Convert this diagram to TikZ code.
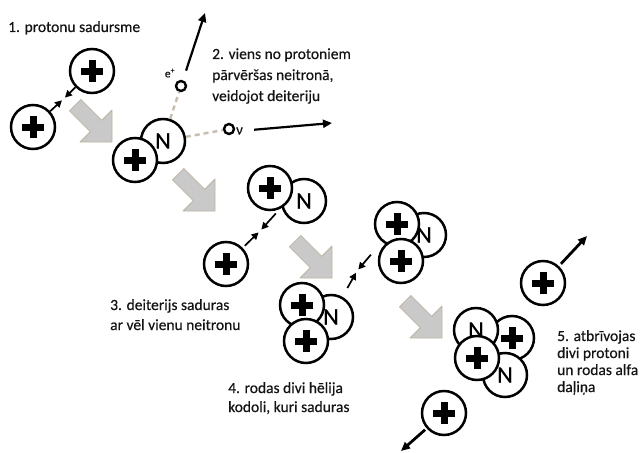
\documentclass[tikz,border=0pt]{standalone}
\usepackage{fontspec}
\setmainfont[FakeBold=0.4]{Carlito}
\usetikzlibrary{arrows.meta}
\definecolor{ink}{HTML}{141414}
\definecolor{flowfill}{HTML}{C9C9C9}
\definecolor{flowedge}{HTML}{BDB3A2}
\definecolor{trail}{HTML}{C6BDAE}

\begin{document}
\begin{tikzpicture}[x=1pt,y=-1pt,
  particle/.style={circle, draw=black, line width=2.5pt, fill=white,
    minimum size=44pt, inner sep=0pt},
  proton/.style={particle, path picture={
    \fill[black] ([shift={(-11pt,-3.5pt)}]path picture bounding box.center)
      rectangle ([shift={(11pt,3.5pt)}]path picture bounding box.center);
    \fill[black] ([shift={(-3.5pt,-11pt)}]path picture bounding box.center)
      rectangle ([shift={(3.5pt,11pt)}]path picture bounding box.center);}},
  neutron/.style={particle, font=\fontsize{24}{24}\selectfont},
  light/.style={circle, draw=black, line width=2.4pt, fill=white,
    minimum size=10pt, inner sep=0pt},
  pull/.style={-{Triangle[length=7pt,width=7pt]}, line width=1.7pt,
    shorten >=2pt},
  emit/.style={-{Triangle[length=9pt,width=8pt]}, line width=2.2pt},
  trailline/.style={draw=trail, line width=2.4pt, dash pattern=on 5pt off 4pt},
  caption/.style={anchor=base west, inner sep=0pt, text=ink,
    font=\fontsize{15.5}{20}\selectfont},
  flow/.pic={\filldraw[fill=flowfill, draw=flowedge, line width=0.8pt,
    line join=round] (-42.5,-31.1) -- (-21.7,-10.3) -- (-32,0) -- (0,0)
    -- (0,-32) -- (-10.3,-21.7) -- (-31.1,-42.5) -- cycle;}
]
\useasboundingbox[fill=white] (0,0) rectangle (644,452);

% reaction flow
\pic at (112,142) {flow};
\pic at (215,211) {flow};
\pic at (332,278) {flow};
\pic at (442,338) {flow};

% 1. two protons approach
\node[proton] (p1a) at (92,71) {};
\node[proton] (p1b) at (33,127) {};
\coordinate (m1) at (63.5,99);
\draw[pull] (p1a) -- (m1);
\draw[pull] (p1b) -- (m1);

% 2. deuteron, positron and neutrino
\node[light] (ep) at (181,86) {};
\node[light] (nu) at (229,129) {};
\node[neutron] (d1n) at (163,141) {N};
\node[proton] (d1p) at (135,160) {};
\draw[trailline] (d1n) -- (ep);
\draw[trailline] (d1n) -- (nu);
\node[inner sep=0pt, text=ink, font=\fontsize{11.5}{11.5}\selectfont] (eplab) at (170,73) {e\textsuperscript{+}};
\node[inner sep=0pt, text=ink, anchor=west, font=\fontsize{15}{15}\selectfont] (nulab) at (236,131) {ν};
\coordinate (eptip) at (205,13);
\coordinate (nutip) at (332,123);
\draw[emit, shorten <=10pt] (ep) -- (eptip);
\draw[emit, shorten <=11pt] (nulab) -- (nutip);

% 3. deuteron meets a proton
\node[neutron] (d2n) at (304,201) {N};
\node[proton] (d2p) at (270,188) {};
\node[proton] (p3) at (226,264) {};
\coordinate (m3) at (260,231);
\draw[pull, shorten <=6pt] (d2p.-65) -- (m3);
\draw[pull, shorten <=3pt] (p3) -- (m3);

% 4. two helium-3 nuclei
\node[neutron] (u4n) at (424,235) {N};
\node[proton] (u4pt) at (397,224) {};
\node[proton] (u4pb) at (401,261) {};
\node[neutron] (l4n) at (331,317) {N};
\node[proton] (l4pt) at (302,305) {};
\node[proton] (l4pb) at (306,341) {};
\coordinate (m4) at (357,271);
\draw[pull, shorten <=17pt] (u4pt) -- (m4);
\draw[pull, shorten <=10pt] (l4n) -- (m4);

% 5. alpha particle and two free protons
\node[proton] (a5pr) at (512,338) {};
\node[neutron] (a5nl) at (476,330) {N};
\node[neutron] (a5nr) at (505,375) {N};
\node[proton] (a5pf) at (477,358) {};
\node[proton] (e5a) at (543,283) {};
\node[proton] (e5b) at (444,413) {};
\coordinate (e5atip) at (587,236);
\coordinate (e5btip) at (401,451);
\draw[emit, line width=2.8pt, shorten <=3pt] (e5a) -- (e5atip);
\draw[emit, line width=2.8pt, shorten <=2pt] (e5b) -- (e5btip);

% captions
\node[caption] (c1) at (8,32) {1. protonu sadursme};
\node[caption] (c2a) at (212,59) {2. viens no protoniem};
\node[caption] (c2b) at (212,80) {pārvēršas neitronā,};
\node[caption] (c2c) at (212,101) {veidojot deiteriju};
\node[caption] (c3a) at (110,310) {3. deiterijs saduras};
\node[caption] (c3b) at (110,330) {ar vēl vienu neitronu};
\node[caption] (c4a) at (228,393) {4. rodas divi hēlija};
\node[caption] (c4b) at (228,412) {kodoli, kuri saduras};
\node[caption] (c5a) at (557,341) {5. atbrīvojas};
\node[caption] (c5b) at (557,358) {divi protoni};
\node[caption] (c5c) at (557,375) {un rodas alfa};
\node[caption] (c5d) at (557,392) {daļiņa};
\end{tikzpicture}
\end{document}
